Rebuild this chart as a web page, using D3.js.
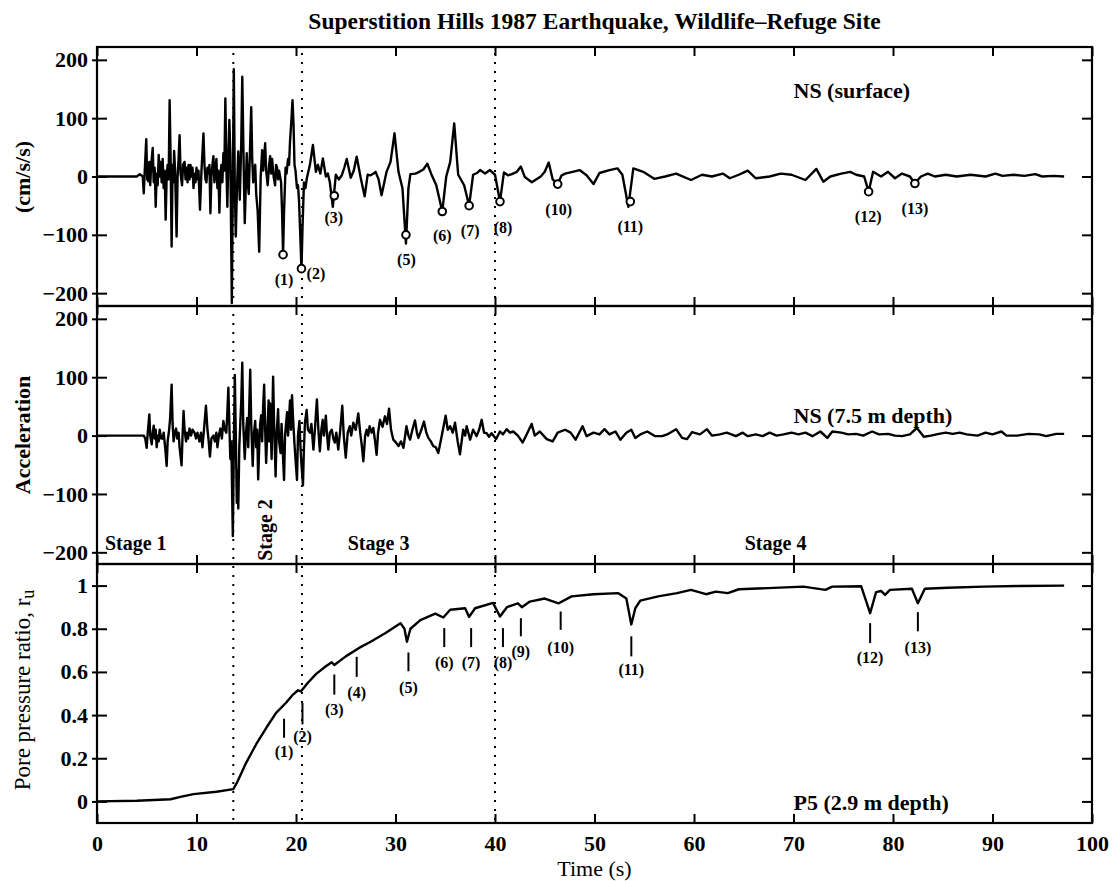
<!DOCTYPE html>
<html>
<head>
<meta charset="utf-8">
<script src="https://cdn.jsdelivr.net/npm/d3@7"></script>
<style>
  body { margin: 0; background: #fff; }
  svg text { font-family: "Liberation Serif", "Times New Roman", serif; fill: #000; }
</style>
</head>
<body>
<div id="wrapper"></div>
<script>
// ---- data ----
const timeTicks = [0, 10, 20, 30, 40, 50, 60, 70, 80, 90, 100]
const accTicks = [-200, -100, 0, 100, 200]
const poreTicks = [0, 0.2, 0.4, 0.6, 0.8, 1]
const stageBounds = [13.7, 20.6, 40]

// NS (surface) acceleration, [time s, cm/s/s]
const surfaceAcc = [
  [0, 0], [4.0, 0], [4.3, 4], [4.6, 0], [4.7, -29], [4.8, 10], [4.95, 64], [5.05, -5], [5.15, -8],
  [5.25, 25], [5.35, -15], [5.45, 20], [5.6, 49], [5.7, -10], [5.8, 15], [5.9, -52], [6.0, 5],
  [6.1, -15], [6.2, 37], [6.3, 0], [6.4, 25], [6.5, -10], [6.6, 30], [6.7, -20], [6.8, 10],
  [6.9, -74], [7.0, 0], [7.1, 20], [7.2, -5], [7.3, 131], [7.4, 30], [7.5, -120], [7.6, 20],
  [7.7, -10], [7.75, 44], [7.85, 10], [8.0, -103], [8.1, 0], [8.2, 30], [8.3, 71], [8.4, 5],
  [8.55, -15], [8.65, 20], [8.8, 25], [8.9, -5], [9.0, 15], [9.1, -10], [9.2, 20], [9.3, -5],
  [9.4, 20], [9.5, 0], [9.6, 15], [9.7, -20], [9.8, 5], [9.9, -10], [10.0, 15], [10.1, -5],
  [10.2, 10], [10.35, -57], [10.5, 10], [10.7, 74], [10.8, 20], [10.9, -5], [11.0, -10], [11.1, 15],
  [11.2, 5], [11.3, 20], [11.4, -63], [11.5, 0], [11.6, 20], [11.7, 35], [11.8, -10], [11.9, 10],
  [12.0, 30], [12.1, -20], [12.2, 10], [12.3, -62], [12.4, 0], [12.5, 20], [12.6, -10], [12.7, 40],
  [12.8, 10], [12.9, 134], [13.0, 20], [13.1, -52], [13.2, 30], [13.3, 97], [13.4, 40],
  [13.55, -217], [13.75, 184], [13.85, -20], [13.95, -103], [14.05, -30], [14.2, 43], [14.35, -40],
  [14.5, 60], [14.6, 171], [14.75, 10], [14.85, -80], [14.95, -20], [15.05, 40], [15.15, -10],
  [15.25, -30], [15.35, 30], [15.5, 119], [15.6, 30], [15.7, -10], [15.8, 10], [15.9, 20],
  [16.0, -30], [16.15, -60], [16.3, -129], [16.45, 0], [16.6, 45], [16.7, 10], [16.9, 57],
  [17.0, 10], [17.15, -15], [17.3, 20], [17.4, 35], [17.5, 5], [17.6, 30], [17.75, 0], [17.9, -15],
  [18.0, 20], [18.1, 15], [18.2, -5], [18.3, 10], [18.4, 0], [18.5, -10], [18.6, -60], [18.7, -134],
  [18.8, -60], [18.95, 15], [19.05, 5], [19.2, 30], [19.3, 20], [19.4, 60], [19.55, 100],
  [19.65, 131], [19.75, 90], [19.85, 20], [19.95, 10], [20.1, -20], [20.2, -15], [20.3, -40],
  [20.45, -110], [20.55, -160], [20.65, -90], [20.8, -10], [20.95, -20], [21.1, -2], [21.4, 20],
  [21.7, 54], [22.0, 8], [22.2, 20], [22.45, 5], [22.7, 31], [23.0, 0], [23.2, 5], [23.4, -10],
  [23.7, -52], [24.0, 3], [24.3, -5], [24.6, 2], [24.85, 15], [25.1, 30], [25.5, -2], [25.8, 10],
  [26.1, 34], [26.5, -2], [26.9, -34], [27.2, 3], [27.5, 2], [27.8, 5], [28.0, 8], [28.3, -5],
  [28.6, -32], [29.1, 8], [29.5, 25], [29.9, 74], [30.3, 8], [30.7, -20], [31.05, -115], [31.3, -20],
  [31.5, 4], [32.0, 5], [32.4, 8], [32.8, 12], [33.2, 22], [33.6, 4], [34.1, -15], [34.7, -60],
  [35.1, 0], [35.5, 25], [35.9, 91], [36.3, 3], [36.9, -15], [37.4, -50], [37.8, 3], [38.2, 6],
  [38.5, 11], [39.0, 5], [39.5, 11], [40.0, 3], [40.5, -43], [40.9, 7], [41.3, 2], [41.7, 4],
  [42.2, 8], [42.6, 17], [43.0, -1], [43.7, -10], [44.6, 0], [45.0, 8], [45.4, 24], [45.8, -5],
  [46.3, -13], [46.7, 2], [47.05, 5], [47.8, 8], [48.5, 11], [49.2, 2], [49.9, -13], [50.5, 6],
  [51.5, 11], [52.3, 14], [52.8, 3], [53.4, -52], [53.9, 14], [54.9, 8], [56.0, -4], [57.1, 0],
  [58.2, 5], [59.7, -6], [60.8, 3], [61.8, 0], [62.9, 5], [63.6, -3], [64.5, 3], [65.4, 10],
  [66.2, -3], [67.6, 0], [68.7, 5], [69.8, 3], [71.2, -6], [72.3, 13], [73.0, -9], [73.7, 0],
  [74.8, 5], [75.7, 8], [76.3, 3], [77.1, 0], [77.55, -26], [78.0, 8], [78.8, 0], [79.5, 8],
  [80.2, -3], [80.9, 5], [81.7, 0], [82.2, -12], [82.8, 0], [83.5, 5], [84.2, 0], [85.3, 3],
  [86.4, 0], [87.8, 3], [89.3, 0], [90.3, 5], [91.0, 1], [92.1, 3], [93.2, 1], [94.3, 4],
  [95.0, 0], [96.1, 1], [97.2, 0]
]

// NS (7.5 m depth) acceleration, [time s, cm/s/s]
const depthAcc = [
  [0, 0], [4.7, 0], [4.85, -5], [4.99, -21], [5.1, 5], [5.26, 36], [5.35, 0], [5.5, -15], [5.6, 5],
  [5.7, 17], [5.8, -5], [5.9, 10], [6.0, -20], [6.1, 0], [6.2, -10], [6.3, 10], [6.45, -5],
  [6.6, -5], [6.7, 5], [6.85, -20], [7.0, -52], [7.1, -10], [7.25, 10], [7.35, 30], [7.5, 87],
  [7.6, 20], [7.7, -10], [7.8, 5], [7.95, 12], [8.05, -5], [8.2, 5], [8.3, -20], [8.5, -51],
  [8.6, 0], [8.7, 42], [8.8, 10], [8.95, -10], [9.05, 5], [9.15, -5], [9.3, 12], [9.45, 0],
  [9.6, 10], [9.8, 5], [9.95, -5], [10.1, 5], [10.3, -10], [10.45, 5], [10.6, -20], [10.75, 10],
  [10.95, 51], [11.1, 10], [11.2, -5], [11.35, -36], [11.5, -5], [11.7, 0], [11.85, -10], [12.0, 5],
  [12.1, -20], [12.25, 0], [12.4, 12], [12.55, -5], [12.7, 25], [12.85, 10], [13.0, 5], [13.1, 40],
  [13.2, 82], [13.3, 20], [13.4, -40], [13.5, -10], [13.65, -172], [13.75, -20], [13.85, 104],
  [13.95, 0], [14.05, -115], [14.12, -60], [14.2, -125], [14.3, -20], [14.4, 20], [14.5, 60],
  [14.6, 125], [14.7, 20], [14.85, -40], [14.95, 0], [15.1, 30], [15.2, -20], [15.3, 50],
  [15.4, 113], [15.5, 20], [15.65, -52], [15.75, 0], [15.9, 25], [16.0, -20], [16.1, 10],
  [16.2, -75], [16.3, -20], [16.4, 20], [16.5, 35], [16.6, -10], [16.7, 50], [16.8, 87], [16.9, 10],
  [17.0, -47], [17.1, 0], [17.25, 60], [17.32, -10], [17.4, 55], [17.48, 0], [17.55, -40],
  [17.62, 30], [17.7, 101], [17.8, 20], [17.95, -70], [18.05, 0], [18.2, 45], [18.3, -10],
  [18.45, -30], [18.55, 20], [18.65, -20], [18.8, -76], [18.9, 0], [19.0, 20], [19.1, 40],
  [19.2, 0], [19.3, 30], [19.4, 60], [19.5, 10], [19.6, 69], [19.7, 30], [19.85, -15], [19.95, -40],
  [20.1, -76], [20.2, 0], [20.35, 25], [20.45, -20], [20.55, -50], [20.7, -85], [20.8, -20],
  [20.9, 22], [21.07, 44], [21.2, 10], [21.4, 5], [21.55, 20], [21.75, -24], [21.9, 10], [22.1, 62],
  [22.25, 10], [22.4, -27], [22.55, 10], [22.68, 27], [22.8, 0], [23.0, 34], [23.1, 5],
  [23.25, -24], [23.4, 5], [23.6, 10], [23.75, -5], [23.9, -12], [24.05, 5], [24.25, -24],
  [24.45, 10], [24.65, 51], [24.8, 0], [25.0, -38], [25.2, 5], [25.4, 16], [25.55, 0], [25.76, 22],
  [26.0, 10], [26.26, 38], [26.45, 5], [26.6, -15], [26.77, -44], [26.95, 0], [27.1, 10],
  [27.25, 0], [27.4, 16], [27.6, 5], [27.77, 13], [27.95, -10], [28.1, -33], [28.25, 5],
  [28.44, 27], [28.7, 15], [28.94, 33], [29.15, 20], [29.35, 46], [29.55, 10], [29.78, -7],
  [30.05, -12], [30.3, -18], [30.55, -10], [30.8, -21], [31.1, 16], [31.3, 0], [31.46, -7],
  [31.7, 10], [31.96, 26], [32.15, 5], [32.3, -4], [32.6, 10], [32.86, 24], [33.1, 5], [33.3, -4],
  [33.55, -10], [33.8, -18], [34.05, -20], [34.3, -30], [34.64, -1], [35.04, 34], [35.25, 10],
  [35.5, 16], [35.75, 5], [35.98, 22], [36.25, -10], [36.48, -32], [36.8, 10], [37.0, 0],
  [37.15, 16], [37.5, -7], [37.8, 10], [38.15, -1], [38.4, 10], [38.66, 27], [38.9, 5], [39.16, 4],
  [39.4, -2], [39.66, 4], [40.1, -6], [40.5, 7], [40.8, 2], [41.17, 11], [41.5, 5], [41.84, 7],
  [42.3, 0], [42.78, -12], [43.18, 2], [43.68, 20], [44.0, 0], [44.5, 7], [45.2, -6], [45.8, -10],
  [46.3, 5], [47.05, 10], [47.6, 5], [48.1, -7], [48.8, 16], [49.2, -1], [49.9, 5], [50.5, 2],
  [51.0, 11], [51.5, 2], [52.1, 7], [52.6, -7], [53.2, 5], [53.7, 10], [54.1, -4], [54.6, 2],
  [55.3, 7], [56.1, -1], [56.8, -1], [57.3, 2], [58.2, 11], [58.8, -4], [59.3, -6], [59.8, 6],
  [60.6, 2], [61.3, 11], [61.8, 0], [62.6, 2], [63.3, 5], [64.2, -1], [64.9, 5], [65.4, -1],
  [66.2, 2], [66.9, -1], [67.6, 5], [68.3, 0], [69.0, 2], [69.8, 5], [70.5, 2], [71.2, 5],
  [71.9, -1], [72.7, 7], [73.4, -4], [73.9, 7], [74.8, 5], [75.5, 2], [76.3, 3], [77.0, 0],
  [77.9, 7], [78.6, 2], [79.5, 3], [80.2, 0], [80.9, -1], [81.7, 2], [82.4, 13], [83.1, -2],
  [83.8, 0], [84.6, 3], [85.3, 5], [86.0, 3], [86.7, 5], [87.4, 2], [88.5, 0], [89.3, 5],
  [90.0, 2], [90.9, 7], [91.4, 0], [92.5, 0], [93.6, 3], [94.7, 2], [95.4, -1], [96.4, 3], [97.2, 3]
]

// P5 (2.9 m depth) pore pressure ratio, [time s, ru]
const porePressure = [
  [0, 0], [4, 0.003], [7.4, 0.01], [8.5, 0.022], [9.7, 0.034], [12, 0.045], [13.7, 0.057],
  [14.1, 0.09], [15, 0.18], [16, 0.265], [17, 0.34], [18, 0.41], [19, 0.457], [19.7, 0.495],
  [20.2, 0.515], [20.5, 0.51], [21.2, 0.55], [22, 0.59], [23, 0.626], [23.6, 0.645], [23.85, 0.632],
  [25, 0.672], [26.3, 0.71], [27.5, 0.74], [29, 0.78], [30.5, 0.826], [30.9, 0.8], [31.15, 0.74],
  [31.5, 0.80], [32.5, 0.84], [34, 0.87], [34.8, 0.852], [35.5, 0.888], [37, 0.895], [37.4, 0.855],
  [38, 0.895], [39.8, 0.92], [40.5, 0.857], [41.2, 0.90], [42.3, 0.918], [42.7, 0.90], [43.5, 0.926],
  [45, 0.94], [46.4, 0.918], [47.7, 0.95], [49.9, 0.96], [52.4, 0.965], [53.2, 0.94], [53.7, 0.82],
  [54.1, 0.895], [54.6, 0.93], [56.4, 0.95], [58.3, 0.965], [59.7, 0.98], [61.2, 0.96],
  [62.2, 0.972], [63.4, 0.965], [64.5, 0.983], [67.4, 0.988], [71, 0.995], [73.2, 0.98],
  [73.9, 0.995], [76.8, 0.997], [77.7, 0.872], [78.3, 0.97], [78.8, 0.975], [79.2, 0.957],
  [79.7, 0.98], [81.9, 0.985], [82.5, 0.918], [83.2, 0.985], [85.5, 0.99], [89.1, 0.995],
  [92.7, 0.998], [97.2, 1.0]
]

// surface event markers: [label, time, acc, label time, label acc]
const surfaceMarks = [
  ["(1)", 18.7, -134, 18.8, -177], ["(2)", 20.55, -158, 22.0, -166], ["(3)", 23.85, -33, 23.8, -70],
  ["(5)", 31.05, -100, 31.1, -143], ["(6)", 34.7, -60, 34.7, -101], ["(7)", 37.4, -50, 37.5, -92],
  ["(8)", 40.5, -43, 40.8, -87], ["(10)", 46.3, -13, 46.4, -57], ["(11)", 53.6, -43, 53.6, -86],
  ["(12)", 77.55, -26, 77.5, -69], ["(13)", 82.2, -12, 82.2, -54]
]

// pore pressure event markers: [label, time, top ru, bottom ru, label ru]
const poreMarks = [
  ["(1)", 18.8, 0.383, 0.295, 0.229], ["(2)", 20.65, 0.457, 0.357, 0.30], ["(3)", 23.85, 0.588, 0.495, 0.426],
  ["(4)", 26.1, 0.67, 0.577, 0.503], ["(5)", 31.3, 0.69, 0.603, 0.53], ["(6)", 34.9, 0.803, 0.715, 0.645],
  ["(7)", 37.6, 0.803, 0.715, 0.645], ["(8)", 40.8, 0.803, 0.715, 0.645], ["(9)", 42.6, 0.849, 0.765, 0.695],
  ["(10)", 46.6, 0.88, 0.795, 0.714], ["(11)", 53.7, 0.765, 0.672, 0.61], ["(12)", 77.7, 0.826, 0.734, 0.665],
  ["(13)", 82.5, 0.877, 0.788, 0.714]
]

async function draw() {
  // 1. dimensions
  const dimensions = {
    width: 1112,
    height: 881,
    left: 97,
    right: 1092,
  }
  const panels = [
    { top: 47, bottom: 306, domain: [-222, 222], ticks: accTicks, data: surfaceAcc, fmt: d3.format("d") },
    { top: 306, bottom: 564, domain: [-220, 222], ticks: accTicks, data: depthAcc, fmt: d3.format("d") },
    { top: 564, bottom: 823, domain: [-0.1, 1.1], ticks: poreTicks, data: porePressure, fmt: d => d === 0 || d === 1 ? d : d3.format(".1f")(d) },
  ]

  // 2. canvas
  const svg = d3.select("#wrapper")
    .append("svg")
    .attr("width", dimensions.width)
    .attr("height", dimensions.height)

  const xScale = d3.scaleLinear()
    .domain([0, 100])
    .range([dimensions.left, dimensions.right])

  // 3. panels
  panels.forEach((p, i) => {
    p.yScale = d3.scaleLinear().domain(p.domain).range([p.bottom, p.top])
    const g = svg.append("g")

    const line = d3.line()
      .x(d => xScale(d[0]))
      .y(d => p.yScale(d[1]))
    g.append("path")
      .datum(p.data)
      .attr("d", line)
      .attr("fill", "none")
      .attr("stroke", "#000")
      .attr("stroke-width", 2.4)
      .attr("stroke-linejoin", "round")

    // left axis, ticks cross the frame
    const left = g.append("g")
      .attr("transform", `translate(${dimensions.left},0)`)
      .call(d3.axisLeft(p.yScale).tickValues(p.ticks).tickSizeInner(-10).tickSizeOuter(0).tickPadding(9).tickFormat(p.fmt))
    left.selectAll(".tick line").attr("x1", -5).attr("stroke-width", 2)
    left.selectAll(".tick text")
      .style("font-size", "22px").style("font-weight", "bold")
      .text(d => String(p.fmt(d)).replace("-", "\u2212"))

    g.append("g")
      .attr("transform", `translate(${dimensions.right},0)`)
      .call(d3.axisRight(p.yScale).tickValues(p.ticks).tickSize(-10).tickFormat(""))
      .selectAll(".tick line").attr("stroke-width", 2)

    g.append("g")
      .attr("transform", `translate(0,${p.top})`)
      .call(d3.axisTop(xScale).tickValues(timeTicks).tickSize(-9).tickFormat(""))
      .selectAll(".tick line").attr("stroke-width", 2)

    const bottom = g.append("g")
      .attr("transform", `translate(0,${p.bottom})`)
      .call(d3.axisBottom(xScale).tickValues(timeTicks).tickSizeInner(-9).tickSizeOuter(0).tickPadding(12)
        .tickFormat(i === 2 ? d3.format("d") : ""))
    bottom.selectAll(".tick line").attr("stroke-width", 2)
    bottom.selectAll(".tick text").style("font-size", "22px").style("font-weight", "bold")

    svg.selectAll(".domain").remove()

    g.append("rect")
      .attr("x", dimensions.left)
      .attr("y", p.top)
      .attr("width", dimensions.right - dimensions.left)
      .attr("height", p.bottom - p.top)
      .attr("fill", "none")
      .attr("stroke", "#000")
      .attr("stroke-width", 2.2)
  })

  const [p1, p2, p3] = panels

  // 4. stage boundaries
  svg.append("g").selectAll("line")
    .data(stageBounds)
    .join("line")
    .attr("x1", d => xScale(d))
    .attr("x2", d => xScale(d))
    .attr("y1", 53)
    .attr("y2", p3.bottom)
    .attr("stroke", "#000")
    .attr("stroke-width", 2)
    .attr("stroke-dasharray", "2,7")

  // 5. markers
  svg.append("g").selectAll("circle")
    .data(surfaceMarks)
    .join("circle")
    .attr("cx", d => xScale(d[1]))
    .attr("cy", d => p1.yScale(d[2]))
    .attr("r", 3.8)
    .attr("fill", "#fff")
    .attr("stroke", "#000")
    .attr("stroke-width", 2)

  svg.append("g").selectAll("text")
    .data(surfaceMarks)
    .join("text")
    .attr("x", d => xScale(d[3]))
    .attr("y", d => p1.yScale(d[4]))
    .attr("text-anchor", "middle")
    .attr("dominant-baseline", "central")
    .style("font-size", "16px")
    .style("font-weight", "bold")
    .text(d => d[0])

  svg.append("g").selectAll("line")
    .data(poreMarks)
    .join("line")
    .attr("x1", d => xScale(d[1]))
    .attr("x2", d => xScale(d[1]))
    .attr("y1", d => p3.yScale(d[2]))
    .attr("y2", d => p3.yScale(d[3]))
    .attr("stroke", "#000")
    .attr("stroke-width", 2)

  svg.append("g").selectAll("text")
    .data(poreMarks)
    .join("text")
    .attr("x", d => xScale(d[1]))
    .attr("y", d => p3.yScale(d[4]))
    .attr("text-anchor", "middle")
    .attr("dominant-baseline", "central")
    .style("font-size", "16px")
    .style("font-weight", "bold")
    .text(d => d[0])

  // 6. texts
  svg.append("text")
    .attr("x", (dimensions.left + dimensions.right) / 2)
    .attr("y", 29)
    .attr("text-anchor", "middle")
    .style("font-size", "23.5px")
    .style("font-weight", "bold")
    .text("Superstition Hills 1987 Earthquake, Wildlife\u2013Refuge Site")

  const panelLabel = (txt, t, y, size) => svg.append("text")
    .attr("x", xScale(t))
    .attr("y", y)
    .style("font-size", size)
    .style("font-weight", "bold")
    .text(txt)

  panelLabel("NS (surface)", 70, 98, "22px")
  panelLabel("NS (7.5 m depth)", 70, 423, "22px")
  panelLabel("P5 (2.9 m depth)", 70, 810, "22px")
  panelLabel("Stage 1", 0.8, 550, "20px")
  panelLabel("Stage 3", 25.2, 550, "20px")
  panelLabel("Stage 4", 65.1, 550, "20px")

  svg.append("text")
    .attr("transform", `translate(${xScale(17.6)},530) rotate(-90)`)
    .attr("text-anchor", "middle")
    .style("font-size", "20px")
    .style("font-weight", "bold")
    .text("Stage 2")

  const yLabel = (y, weight, size) => svg.append("text")
    .attr("transform", `translate(30,${y}) rotate(-90)`)
    .attr("text-anchor", "middle")
    .style("font-size", size)
    .style("font-weight", weight)
  yLabel(177, "bold", "22px").text("(cm/s/s)")
  yLabel(435, "bold", "22px").text("Acceleration")
  const ru = yLabel(690, "normal", "23px")
  ru.append("tspan").text("Pore pressure ratio, r")
  ru.append("tspan").attr("dy", 4).style("font-size", "18px").text("u")

  svg.append("text")
    .attr("x", (dimensions.left + dimensions.right) / 2)
    .attr("y", 876)
    .attr("text-anchor", "middle")
    .style("font-size", "22px")
    .text("Time (s)")
}

draw()
</script>
</body>
</html>
